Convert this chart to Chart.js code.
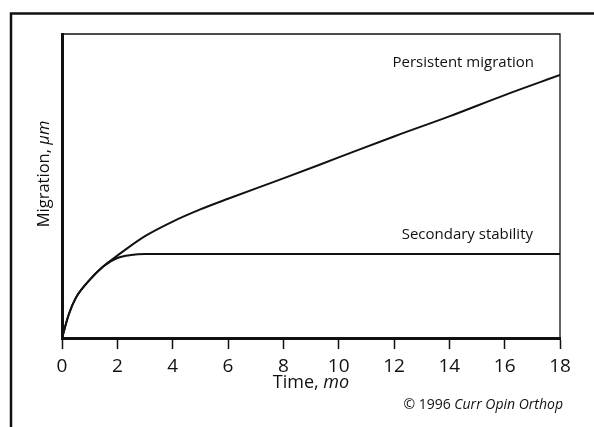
<!DOCTYPE html>
<html>
<head>
<meta charset="utf-8">
<script src="https://cdn.jsdelivr.net/npm/chart.js@4.4.0/dist/chart.umd.min.js"></script>
<style>
  html, body { margin: 0; padding: 0; background: #fff; }
  #wrap { position: relative; width: 594px; height: 427px; }
</style>
</head>
<body>
<div id="wrap"><canvas id="migrationChart" width="594" height="427"></canvas></div>
<script>
// values, y in % of axis height
const persistentMonths = [0, 0.25, 0.5, 1, 1.5, 2, 3, 4, 5, 6, 8, 10, 12, 14, 16, 18];
const persistentValues = [0, 7.9, 13.2, 19.1, 23.6, 27.1, 33.5, 38.3, 42.3, 45.8, 52.5, 59.4, 66.3, 72.9, 79.9, 86.5];
const secondaryMonths = [0, 0.25, 0.5, 1, 1.5, 2, 2.5, 3, 4, 6, 8, 10, 12, 14, 16, 18];
const secondaryValues = [0, 7.9, 13.2, 19.1, 23.6, 26.3, 27.3, 27.6, 27.6, 27.6, 27.6, 27.6, 27.6, 27.6, 27.6, 27.6];
const xTickValues = [0, 2, 4, 6, 8, 10, 12, 14, 16, 18];

const xTitle = [{ text: 'Time, ' }, { text: 'mo', italic: true }];
const yTitle = [{ text: 'Migration, ' }, { text: 'μm', italic: true }];
const credit = [{ text: '© 1996 ' }, { text: 'Curr Opin Orthop', italic: true }];
const persistentLabel = 'Persistent migration';
const secondaryLabel = 'Secondary stability';

const FONT = '"Open Sans", "DejaVu Sans", sans-serif';
const INK = '#111';

function toPoints(xs, ys) {
    return xs.map((x, i) => ({ x: x, y: ys[i] }));
}

function drawRuns(ctx, runs, x, y, size, align) {
    let total = 0;
    runs.forEach(r => {
        ctx.font = (r.italic ? 'italic ' : '') + size + 'px ' + FONT;
        r.w = ctx.measureText(r.text).width;
        total += r.w;
    });
    let cx = align === 'right' ? x - total : align === 'center' ? x - total / 2 : x;
    ctx.textAlign = 'left';
    runs.forEach(r => {
        ctx.font = (r.italic ? 'italic ' : '') + size + 'px ' + FONT;
        ctx.fillText(r.text, cx, y);
        cx += r.w;
    });
}

const decorations = {
    id: 'decorations',
    beforeDraw(chart) {
        const ctx = chart.ctx;
        ctx.save();
        ctx.strokeStyle = INK;
        ctx.lineWidth = 2.5;
        ctx.beginPath();
        ctx.moveTo(11, 427);
        ctx.lineTo(11, 13.5);
        ctx.lineTo(594, 13.5);
        ctx.stroke();
        ctx.restore();
    },
    afterDraw(chart) {
        const ctx = chart.ctx;
        const a = chart.chartArea;
        ctx.save();
        ctx.strokeStyle = INK;
        ctx.lineWidth = 1.3;
        ctx.beginPath();
        ctx.moveTo(a.left, a.top);
        ctx.lineTo(a.right, a.top);
        ctx.lineTo(a.right, a.bottom);
        ctx.stroke();

        ctx.fillStyle = INK;
        ctx.textBaseline = 'alphabetic';
        drawRuns(ctx, [{ text: persistentLabel }], 534, 67, 15, 'right');
        drawRuns(ctx, [{ text: secondaryLabel }], 533, 239, 15, 'right');
        drawRuns(ctx, xTitle, (a.left + a.right) / 2, 388, 18, 'center');
        drawRuns(ctx, credit, 563, 409, 14, 'right');

        ctx.translate(49, 174);
        ctx.rotate(-Math.PI / 2);
        drawRuns(ctx, yTitle, 0, 0, 16.5, 'center');
        ctx.restore();
    }
};

const ctx = document.getElementById('migrationChart').getContext('2d');
new Chart(ctx, {
    type: 'line',
    data: {
        datasets: [
            {
                label: persistentLabel,
                data: toPoints(persistentMonths, persistentValues),
                borderColor: INK,
                borderWidth: 2,
                pointRadius: 0,
                cubicInterpolationMode: 'monotone'
            },
            {
                label: secondaryLabel,
                data: toPoints(secondaryMonths, secondaryValues),
                borderColor: INK,
                borderWidth: 2,
                pointRadius: 0,
                cubicInterpolationMode: 'monotone'
            }
        ]
    },
    options: {
        responsive: false,
        animation: false,
        devicePixelRatio: 1,
        layout: { padding: { left: 0, top: 34, right: 34, bottom: 0 } },
        plugins: {
            legend: { display: false },
            tooltip: { enabled: false }
        },
        scales: {
            x: {
                type: 'linear',
                min: 0,
                max: 18,
                afterFit: scale => { scale.height = 89; },
                afterBuildTicks: scale => { scale.ticks = xTickValues.map(v => ({ value: v })); },
                grid: {
                    display: true,
                    drawOnChartArea: false,
                    drawTicks: true,
                    tickLength: 11,
                    tickWidth: 1.5,
                    tickColor: INK
                },
                border: { display: true, color: INK, width: 3 },
                ticks: {
                    color: INK,
                    padding: 6,
                    autoSkip: false,
                    maxRotation: 0,
                    font: { family: FONT, size: 19 }
                }
            },
            y: {
                min: 0,
                max: 100,
                afterFit: scale => { scale.width = 62; },
                grid: { display: false },
                border: { display: true, color: INK, width: 3 },
                ticks: { display: false }
            }
        }
    },
    plugins: [decorations]
});
</script>
</body>
</html>
